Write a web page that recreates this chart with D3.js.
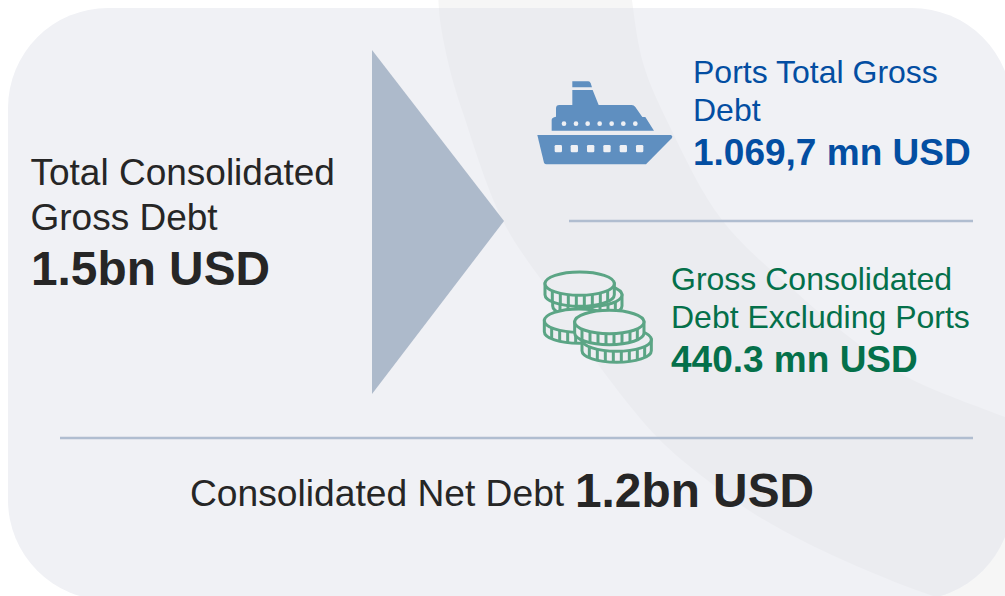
<!DOCTYPE html>
<html>
<head>
<meta charset="utf-8">
<script src="https://cdn.jsdelivr.net/npm/d3@7"></script>
<style>
  html, body { margin: 0; padding: 0; background: #fff; overflow: hidden; }
  text { font-family: "Liberation Sans", Arial, sans-serif; }
</style>
</head>
<body>
<div id="chart"></div>
<script>
var leftLabel = ["Total Consolidated", "Gross Debt"];
var leftValue = "1.5bn USD";
var portsLabel = ["Ports Total Gross", "Debt"];
var portsValue = "1.069,7 mn USD";
var otherLabel = ["Gross Consolidated", "Debt Excluding Ports"];
var otherValue = "440.3 mn USD";
var netLabel = "Consolidated Net Debt";
var netValue = "1.2bn USD";

var width = 1005, height = 596;
var dark = "#262626", blue = "#034ea2", green = "#04704a";

var svg = d3.select("#chart").append("svg")
  .attr("width", width)
  .attr("height", height);

// rounded panel, runs just off the right and bottom of the picture
svg.append("defs").append("clipPath").attr("id", "panel")
  .append("rect")
  .attr("x", 8).attr("y", 8)
  .attr("width", 1004).attr("height", 592)
  .attr("rx", 100).attr("ry", 100);

// swoosh edges
var swooshOuter = [[438, -10], [440, 20], [450, 70], [463, 113], [504, 223], [563, 310], [590, 353], [657, 437], [707, 480], [753, 513], [807, 543], [873, 573], [933, 596], [1040, 630]];
var swooshInner = [[1040, 430], [1005, 417], [907, 377], [857, 343], [797, 293], [722, 220], [670, 127], [643, 63], [632, 0], [631, -10]];
var line = d3.line().curve(d3.curveCatmullRom.alpha(0.5));
var swoosh = line(swooshOuter) + "L" + line(swooshInner).slice(1) + "Z";

// the swoosh also shows faintly outside the panel
svg.append("path").attr("d", swoosh).attr("fill", "#f6f6f6");

var bg = svg.append("g").attr("clip-path", "url(#panel)");
bg.append("rect").attr("width", width + 40).attr("height", height + 40).attr("fill", "#f0f1f5");
bg.append("path").attr("d", swoosh).attr("fill", "#ebecf0");

// arrow
svg.append("path")
  .attr("d", "M372,50L504,221L372,394Z")
  .attr("fill", "#adbacb");

// separators
svg.selectAll("line.sep")
  .data([[569, 973, 221], [60, 973, 438]])
  .enter().append("line")
  .attr("class", "sep")
  .attr("x1", function(d) { return d[0]; })
  .attr("x2", function(d) { return d[1]; })
  .attr("y1", function(d) { return d[2]; })
  .attr("y2", function(d) { return d[2]; })
  .attr("stroke", "#b0bdd0")
  .attr("stroke-width", 2.5);

// ship icon, drawn at 3x
var ship = svg.append("g").attr("transform", "translate(520,60) scale(0.3333)").attr("fill", "#5f8fc0");
ship.append("path").attr("d", "M157,64H205Q210,64 212,70L216,82H157Z");
ship.append("path").attr("d", "M157,90H218L236,135H335Q342,135 346,141L367,171H376L402,212H95V180Q95,172 108,170V145Q108,135 118,135H157Z");
ship.append("path").attr("d", "M52,225H452Q460,228 455,235L378,313H80Q74,313 72,308Z");
ship.selectAll("circle")
  .data([132, 168, 203, 239, 275, 310, 346])
  .enter().append("circle")
  .attr("cx", function(d) { return d; }).attr("cy", 191).attr("r", 7)
  .attr("fill", "#eef0f4");
ship.selectAll("rect")
  .data([115, 163, 212, 261, 310, 359])
  .enter().append("rect")
  .attr("x", function(d) { return d - 11; }).attr("y", 255)
  .attr("width", 22).attr("height", 22).attr("rx", 4)
  .attr("fill", "#eef0f4");

// coins icon, drawn at 3x, back to front
var coins = [[172, 105], [147, 182], [149, 71], [260, 239], [238, 186]];
var coinTicks = [-82, -58, -34, -10, 14, 38, 62, 84];
var coinGroup = svg.append("g").attr("transform", "translate(530,260) scale(0.3333)");
var coin = coinGroup.selectAll("g").data(coins).enter().append("g")
  .attr("transform", function(d) { return "translate(" + d[0] + "," + d[1] + ")"; })
  .attr("fill", "#ecedf1")
  .attr("stroke", "#5ba585")
  .attr("stroke-width", 9);
coin.append("path").attr("d", "M-104,0V33A104,35 0 0 0 104,33V0Z");
coin.selectAll("line")
  .data(coinTicks)
  .enter().append("line")
  .attr("x1", function(d) { return d; })
  .attr("x2", function(d) { return d; })
  .attr("y1", function(d) { return 35 * Math.sqrt(1 - d * d / (104 * 104)); })
  .attr("y2", function(d) { return 33 + 35 * Math.sqrt(1 - d * d / (104 * 104)); });
coin.append("ellipse").attr("rx", 104).attr("ry", 35);

function addText(x, y, str, size, weight, color) {
  svg.append("text")
    .attr("x", x).attr("y", y)
    .attr("font-size", size)
    .attr("font-weight", weight)
    .attr("fill", color)
    .text(str);
}

addText(30.5, 185, leftLabel[0], 37, "normal", dark);
addText(30.5, 230, leftLabel[1], 37, "normal", dark);
addText(31, 285, leftValue, 47.8, "bold", dark);

addText(693, 83, portsLabel[0], 32, "normal", blue);
addText(693, 121, portsLabel[1], 32, "normal", blue);
addText(693, 165, portsValue, 37, "bold", blue);

addText(671, 290, otherLabel[0], 32, "normal", green);
addText(671, 328, otherLabel[1], 32, "normal", green);
addText(671, 372, otherValue, 37, "bold", green);

addText(190, 506, netLabel, 37.2, "normal", dark);
addText(575, 507, netValue, 47.8, "bold", dark);
</script>
</body>
</html>
